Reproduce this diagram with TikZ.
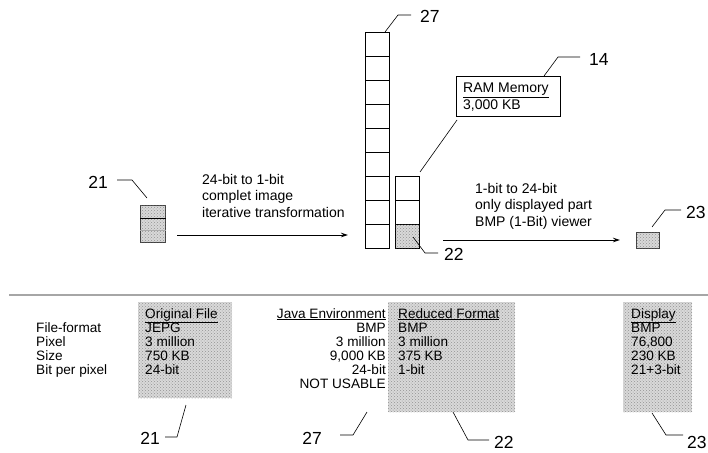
\documentclass[tikz,border=0pt]{standalone}
\usepackage{fontspec}
\setmainfont{Liberation Sans}
\usetikzlibrary{patterns,calc,arrows.meta}
\begin{document}
\begin{tikzpicture}[x=1pt,y=-1pt,
  txt/.style={font=\fontsize{13.6}{13.5}\selectfont, inner sep=0pt},
  mtxt/.style={font=\fontsize{14}{16.2}\selectfont, inner sep=0pt, align=left},
  num/.style={font=\fontsize{17.5}{17.5}\selectfont, inner sep=0pt},
  cell/.style={draw, line width=0.8pt, minimum width=24pt, minimum height=24pt, inner sep=0pt, anchor=north west},
  shadebox/.style={fill=gray!30, postaction={pattern=crosshatch dots, pattern color=gray!85}, inner sep=0pt, anchor=north west},
  lead/.style={line width=0.6pt},
  arr/.style={-{Stealth[length=7pt,width=4.5pt]}, line width=0.9pt}
]
\useasboundingbox (0,0) rectangle (708,452);

% ---------- top: original image icon ----------
\node[shadebox, draw=gray!50!black, line width=0.7pt, minimum width=25pt, minimum height=37pt] (i21) at (140,205) {};
\draw[line width=0.9pt] (i21.north west) ++(0,13) coordinate (i21a) -- (i21a -| i21.east);
\draw[gray!65, line width=0.6pt] (i21.north west) ++(0,25) coordinate (i21b) -- (i21b -| i21.east);
\node[num, anchor=base east] (n21) at (108,188) {21};
\coordinate (l21a) at (117,180);
\coordinate (l21b) at (132,180);
\coordinate (l21c) at (147,198);
\draw[lead] (l21a) -- (l21b) -- (l21c);

% ---------- arrow 1 ----------
\coordinate (a1s) at (177,235);
\coordinate (a1e) at (348,235);
\draw[arr] (a1s) -- (a1e);
\node[mtxt, anchor=base west] (t1) at (202,217) {24-bit to 1-bit\\complet image\\iterative transformation};

% ---------- column 27 ----------
\foreach \i in {0,...,8} {
  \node[cell] (c\i) at (365,{32+24*\i}) {};
}
\coordinate (l27a) at (385,32);
\coordinate (l27b) at (398,15);
\coordinate (l27c) at (411,15);
\draw[lead] (l27a) -- (l27b) -- (l27c);
\node[num, anchor=base west] (n27) at (420,23) {27};

% ---------- column 22 ----------
\node[cell] (d0) at (395,176) {};
\node[cell] (d1) at (395,200) {};
\node[cell, shadebox, draw] (d2) at (395,224) {};
\coordinate (l22a) at (413,237);
\coordinate (l22b) at (425,253);
\coordinate (l22c) at (438,253);
\draw[lead] (l22a) -- (l22b) -- (l22c);
\node[num, anchor=base west] (n22) at (444,260) {22};

% ---------- RAM memory ----------
\node[draw, line width=0.7pt, anchor=north west, minimum width=104pt, minimum height=40pt] (ram) at (456,76) {};
\node[mtxt, anchor=base west] (ramt) at (463,109) {\underline{RAM Memory}\\3,000 KB};
\coordinate (l14a) at (544,76);
\coordinate (l14b) at (558,57);
\coordinate (l14c) at (580,57);
\draw[lead] (l14a) -- (l14b) -- (l14c);
\node[num, anchor=base west] (n14) at (589,65) {14};
\coordinate (rl) at (457,120);
\coordinate (rl2) at (420,172);
\draw[lead] (rl) -- (rl2);

% ---------- arrow 2 ----------
\coordinate (a2s) at (443,240);
\coordinate (a2e) at (620,240);
\draw[arr] (a2s) -- (a2e);
\node[mtxt, anchor=base west] (t2) at (475,226) {1-bit to 24-bit\\only displayed part\\BMP (1-Bit) viewer};

% ---------- display box 23 ----------
\node[shadebox, draw=gray!50!black, line width=0.6pt, minimum width=23pt, minimum height=16pt] (b23) at (636,232) {};
\coordinate (l23a) at (652,227);
\coordinate (l23b) at (665,210);
\coordinate (l23c) at (681,210);
\draw[lead] (l23a) -- (l23b) -- (l23c);
\node[num, anchor=base west] (n23) at (686,218) {23};

% ---------- separator ----------
\coordinate (s1) at (9,295);
\coordinate (s2) at (708,295);
\draw[gray!70, line width=1.6pt] (s1) -- (s2);

% ---------- tables ----------
\node[shadebox, minimum width=94pt, minimum height=96pt] (of) at (138,302) {};
\node[shadebox, minimum width=127pt, minimum height=110pt] (rf) at (388,302) {};
\node[shadebox, minimum width=69pt, minimum height=110pt] (df) at (623,302) {};

\foreach \t [count=\k] in {File-format,Pixel,Size,Bit per pixel} {
  \node[txt, anchor=base west] (lab\k) at (36,{318+14*\k}) {\t};
}
\foreach \t [count=\k from 0] in {\underline{Original File},JEPG,3 million,750 KB,24-bit} {
  \node[txt, anchor=base west] (o\k) at (145,{318+14*\k}) {\t};
}
\foreach \t [count=\k from 0] in {\underline{Java Environment},BMP,3 million,{9,000 KB},24-bit,NOT USABLE} {
  \node[txt, anchor=base east] (j\k) at (386,{318+14*\k}) {\t};
}
\foreach \t [count=\k from 0] in {\underline{Reduced Format},BMP,3 million,375 KB,1-bit} {
  \node[txt, anchor=base west] (r\k) at (398,{318+14*\k}) {\t};
}
\foreach \t [count=\k from 0] in {\underline{Display},BMP,{76,800},230 KB,21+3-bit} {
  \node[txt, anchor=base west] (q\k) at (631,{318+14*\k}) {\t};
}

% bottom leaders
\node[num, anchor=base east] (b21) at (160,444) {21};
\coordinate (m21a) at (165,437);
\coordinate (m21b) at (177,437);
\coordinate (m21c) at (186,405);
\draw[lead] (m21a) -- (m21b) -- (m21c);

\node[num, anchor=base east] (b27) at (322,444) {27};
\coordinate (m27a) at (340,435);
\coordinate (m27b) at (353,435);
\coordinate (m27c) at (367,412);
\draw[lead] (m27a) -- (m27b) -- (m27c);

\node[num, anchor=base west] (b22) at (494,448) {22};
\coordinate (m22a) at (453,412);
\coordinate (m22b) at (468,440);
\coordinate (m22c) at (489,440);
\draw[lead] (m22a) -- (m22b) -- (m22c);

\node[num, anchor=base west] (b23) at (687,448) {23};
\coordinate (m23a) at (652,413);
\coordinate (m23b) at (666,435);
\coordinate (m23c) at (683,435);
\draw[lead] (m23a) -- (m23b) -- (m23c);
\end{tikzpicture}
\end{document}
